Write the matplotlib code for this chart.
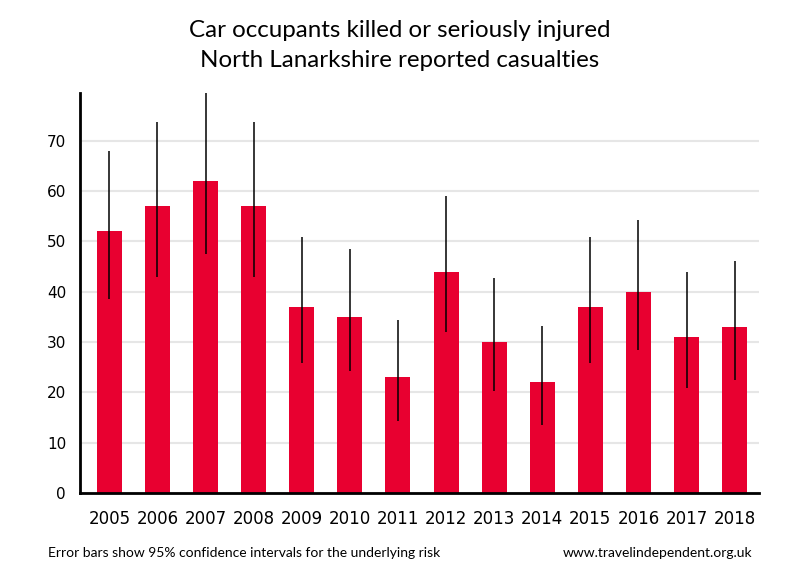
import matplotlib
matplotlib.use("Agg")
import matplotlib.pyplot as plt
import numpy as np

years = ["2005", "2006", "2007", "2008", "2009", "2010", "2011", "2012",
         "2013", "2014", "2015", "2016", "2017", "2018"]
values = [52, 57, 62, 57, 37, 35, 23, 44, 30, 22, 37, 40, 31, 33]
ci_low = [38.6, 43.0, 47.5, 43.0, 25.9, 24.3, 14.4, 31.9, 20.2, 13.6, 25.9, 28.5, 20.9, 22.5]
ci_high = [68.0, 73.7, 79.5, 73.7, 50.9, 48.5, 34.4, 58.9, 42.8, 33.2, 50.9, 54.3, 43.9, 46.1]
yticks = [0, 10, 20, 30, 40, 50, 60, 70]

fig = plt.figure(figsize=(8, 5.8), dpi=100)
ax = fig.add_axes([0.1, 0.15, 0.849, 0.69])

x = np.arange(len(years))
ax.bar(x, values, width=0.52, color="#E80030", zorder=2)
ax.vlines(x, ci_low, ci_high, color="black", linewidth=1.1, zorder=3)

ax.set_xlim(-0.61, 13.51)
ax.set_ylim(0, 79.5)
ax.set_yticks(yticks)
ax.set_xticks(x)
ax.set_xticklabels(years)
ax.tick_params(axis="y", length=0, labelsize=11, pad=10)
ax.tick_params(axis="x", length=0, labelsize=12, pad=12)
ax.yaxis.grid(True, color="#e6e6e6", linewidth=1.5, zorder=0)
ax.set_axisbelow(True)
for s in ["top", "right"]:
    ax.spines[s].set_visible(False)
ax.spines["left"].set_linewidth(2)
ax.spines["bottom"].set_linewidth(2)

fig.text(0.5, 0.948, "Car occupants killed or seriously injured", ha="center", va="center",
         fontsize=17.4, family="Lato")
fig.text(0.5, 0.895, "North Lanarkshire reported casualties", ha="center", va="center",
         fontsize=17.4, family="Lato")
fig.text(0.06, 0.046, "Error bars show 95% confidence intervals for the underlying risk",
         ha="left", va="center", fontsize=10, family="Lato")
fig.text(0.94, 0.046, "www.travelindependent.org.uk", ha="right", va="center",
         fontsize=10, family="Lato")

fig.savefig("out.png", dpi=100)
